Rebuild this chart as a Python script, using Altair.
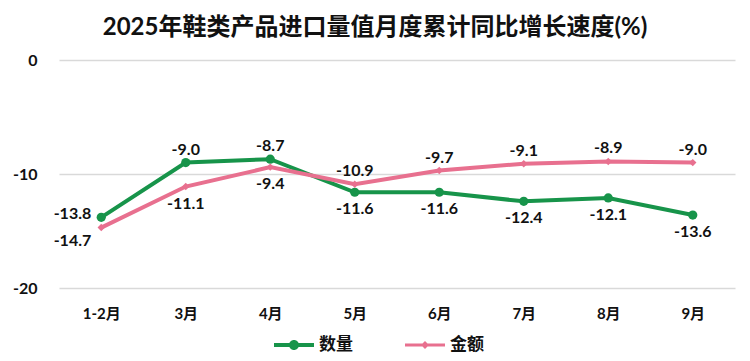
import altair as alt
import pandas as pd

months = ["1-2月", "3月", "4月", "5月", "6月", "7月", "8月", "9月"]
series = ["数量", "金额"]
qty = [-13.8, -9.0, -8.7, -11.6, -11.6, -12.4, -12.1, -13.6]
amt = [-14.7, -11.1, -9.4, -10.9, -9.7, -9.1, -8.9, -9.0]
qty_pos = ["left", "above", "above", "below", "below", "below", "below", "below"]
amt_pos = ["leftbelow", "below", "below", "above", "above", "above", "above", "above"]

colors = ["#17944A", "#E8708F"]
FONT = "Lato, Noto Sans CJK SC, sans-serif"

rows = []
for s, vals, poss in [(series[0], qty, qty_pos), (series[1], amt, amt_pos)]:
    for m, v, p in zip(months, vals, poss):
        rows.append({"month": m, "series": s, "value": v, "pos": p})
df = pd.DataFrame(rows)

x = alt.X("month:N", sort=months, title=None,
          scale=alt.Scale(paddingInner=1, paddingOuter=0.5),
          axis=alt.Axis(labelAngle=0, labelFontSize=15, labelFontWeight="bold",
                        labelColor="#111", labelFont=FONT, labelPadding=18,
                        ticks=False, domain=False, grid=False))
y = alt.Y("value:Q", title=None,
          scale=alt.Scale(domain=[-20, 0], nice=False),
          axis=alt.Axis(values=[0, -10, -20], labelFontSize=16, labelFontWeight="bold",
                        labelColor="#111", labelFont=FONT, labelPadding=22,
                        labelExpr="replace(datum.label, '\u2212', '-')",
                        ticks=False, domain=False, gridColor="#D9D9D9", gridWidth=1.3))

base = alt.Chart(df)
layers = []
shapes_pts = ["circle", "diamond"]
sizes_pts = [85, 55]
for s, c, sh, sz in zip(series, colors, shapes_pts, sizes_pts):
    sub = base.transform_filter(alt.datum.series == s)
    layers.append(sub.mark_line(color=c, strokeWidth=4).encode(x=x, y=y))
    layers.append(sub.mark_point(color=c, filled=True, opacity=1, shape=sh, size=sz).encode(x=x, y=y))

label_specs = {
    "above": dict(align="center", baseline="middle", dx=0, dy=-13),
    "below": dict(align="center", baseline="middle", dx=0, dy=17),
    "left": dict(align="right", baseline="middle", dx=-10, dy=-3),
    "leftbelow": dict(align="right", baseline="middle", dx=-10, dy=13),
}
for p, spec in label_specs.items():
    layers.append(
        base.transform_filter(alt.datum.pos == p)
        .transform_calculate(lbl="replace(format(datum.value, '.1f'), '\u2212', '-')")
        .mark_text(fontSize=16, fontWeight="bold", font=FONT, color="#111", **spec)
        .encode(x=x, y=y, text=alt.Text("lbl:N"))
    )

leg_paths = [
    "M-1,-0.1L1,-0.1L1,0.1L-1,0.1Z M0.25,0A0.25,0.25,0,1,1,-0.25,0A0.25,0.25,0,1,1,0.25,0Z",
    "M-1,-0.08L1,-0.08L1,0.08L-1,0.08Z M0,-0.2L0.2,0L0,0.2L-0.2,0Z",
]
leg = alt.Legend(title=None, orient="none", legendX=215, legendY=265, direction="horizontal",
                 labelFontSize=17, labelFontWeight="bold", labelFont=FONT, labelColor="#111",
                 symbolSize=1600, symbolOpacity=1, symbolStrokeWidth=0, labelOffset=5,
                 columnPadding=52)
layers.append(
    base.mark_point(filled=True, opacity=0).encode(
        x=x, y=y,
        color=alt.Color("series:N", scale=alt.Scale(domain=series, range=colors), legend=leg),
        shape=alt.Shape("series:N", scale=alt.Scale(domain=series, range=leg_paths), legend=leg),
    )
)

chart = alt.layer(*layers).properties(
    width=676, height=228,
    autosize=alt.AutoSizeParams(type="none"),
    padding={"left": 51, "top": 52, "right": 7, "bottom": 65},
    title=alt.Title("2025年鞋类产品进口量值月度累计同比增长速度(%)", fontSize=24,
                    fontWeight="bold", font=FONT, color="#111", anchor="middle",
                    dx=-22, offset=12),
).configure_view(stroke=None)

chart.save("out.html", embed_options={"renderer": "svg", "actions": False})
